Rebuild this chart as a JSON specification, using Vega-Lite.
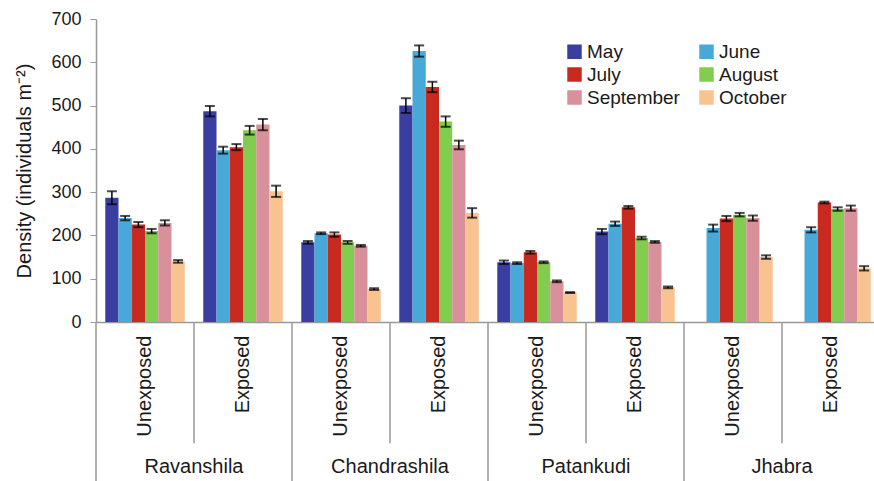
{
  "$schema": "https://vega.github.io/schema/vega-lite/v6.json",
  "autosize": "none",
  "padding": {"left": 96, "top": 19, "right": 0, "bottom": 159},
  "width": 784,
  "height": 303,
  "background": "white",
  "config": {"font": "Liberation Sans", "view": {"stroke": null}},
  "datasets": {
    "bars": [
      {"site": "Ravanshila", "exposure": "Unexposed", "group": "Ravanshila Unexposed", "month": "May", "density": 287, "se": 15},
      {"site": "Ravanshila", "exposure": "Unexposed", "group": "Ravanshila Unexposed", "month": "June", "density": 240, "se": 5},
      {"site": "Ravanshila", "exposure": "Unexposed", "group": "Ravanshila Unexposed", "month": "July", "density": 225, "se": 6},
      {"site": "Ravanshila", "exposure": "Unexposed", "group": "Ravanshila Unexposed", "month": "August", "density": 210, "se": 5},
      {"site": "Ravanshila", "exposure": "Unexposed", "group": "Ravanshila Unexposed", "month": "September", "density": 229, "se": 6},
      {"site": "Ravanshila", "exposure": "Unexposed", "group": "Ravanshila Unexposed", "month": "October", "density": 140, "se": 3},
      {"site": "Ravanshila", "exposure": "Exposed", "group": "Ravanshila Exposed", "month": "May", "density": 487, "se": 12},
      {"site": "Ravanshila", "exposure": "Exposed", "group": "Ravanshila Exposed", "month": "June", "density": 397, "se": 8},
      {"site": "Ravanshila", "exposure": "Exposed", "group": "Ravanshila Exposed", "month": "July", "density": 404, "se": 7},
      {"site": "Ravanshila", "exposure": "Exposed", "group": "Ravanshila Exposed", "month": "August", "density": 443, "se": 10},
      {"site": "Ravanshila", "exposure": "Exposed", "group": "Ravanshila Exposed", "month": "September", "density": 456, "se": 13},
      {"site": "Ravanshila", "exposure": "Exposed", "group": "Ravanshila Exposed", "month": "October", "density": 302, "se": 13},
      {"site": "Chandrashila", "exposure": "Unexposed", "group": "Chandrashila Unexposed", "month": "May", "density": 184, "se": 3},
      {"site": "Chandrashila", "exposure": "Unexposed", "group": "Chandrashila Unexposed", "month": "June", "density": 205, "se": 2},
      {"site": "Chandrashila", "exposure": "Unexposed", "group": "Chandrashila Unexposed", "month": "July", "density": 202, "se": 5},
      {"site": "Chandrashila", "exposure": "Unexposed", "group": "Chandrashila Unexposed", "month": "August", "density": 184, "se": 3},
      {"site": "Chandrashila", "exposure": "Unexposed", "group": "Chandrashila Unexposed", "month": "September", "density": 176, "se": 2},
      {"site": "Chandrashila", "exposure": "Unexposed", "group": "Chandrashila Unexposed", "month": "October", "density": 76, "se": 2},
      {"site": "Chandrashila", "exposure": "Exposed", "group": "Chandrashila Exposed", "month": "May", "density": 500, "se": 17},
      {"site": "Chandrashila", "exposure": "Exposed", "group": "Chandrashila Exposed", "month": "June", "density": 626, "se": 13},
      {"site": "Chandrashila", "exposure": "Exposed", "group": "Chandrashila Exposed", "month": "July", "density": 543, "se": 12},
      {"site": "Chandrashila", "exposure": "Exposed", "group": "Chandrashila Exposed", "month": "August", "density": 463, "se": 12},
      {"site": "Chandrashila", "exposure": "Exposed", "group": "Chandrashila Exposed", "month": "September", "density": 409, "se": 10},
      {"site": "Chandrashila", "exposure": "Exposed", "group": "Chandrashila Exposed", "month": "October", "density": 252, "se": 11},
      {"site": "Patankudi", "exposure": "Unexposed", "group": "Patankudi Unexposed", "month": "May", "density": 138, "se": 4},
      {"site": "Patankudi", "exposure": "Unexposed", "group": "Patankudi Unexposed", "month": "June", "density": 136, "se": 2},
      {"site": "Patankudi", "exposure": "Unexposed", "group": "Patankudi Unexposed", "month": "July", "density": 161, "se": 3},
      {"site": "Patankudi", "exposure": "Unexposed", "group": "Patankudi Unexposed", "month": "August", "density": 138, "se": 2},
      {"site": "Patankudi", "exposure": "Unexposed", "group": "Patankudi Unexposed", "month": "September", "density": 94, "se": 2},
      {"site": "Patankudi", "exposure": "Unexposed", "group": "Patankudi Unexposed", "month": "October", "density": 68, "se": 1},
      {"site": "Patankudi", "exposure": "Exposed", "group": "Patankudi Exposed", "month": "May", "density": 209, "se": 6},
      {"site": "Patankudi", "exposure": "Exposed", "group": "Patankudi Exposed", "month": "June", "density": 227, "se": 5},
      {"site": "Patankudi", "exposure": "Exposed", "group": "Patankudi Exposed", "month": "July", "density": 265, "se": 3},
      {"site": "Patankudi", "exposure": "Exposed", "group": "Patankudi Exposed", "month": "August", "density": 194, "se": 3},
      {"site": "Patankudi", "exposure": "Exposed", "group": "Patankudi Exposed", "month": "September", "density": 185, "se": 2},
      {"site": "Patankudi", "exposure": "Exposed", "group": "Patankudi Exposed", "month": "October", "density": 80, "se": 2},
      {"site": "Jhabra", "exposure": "Unexposed", "group": "Jhabra Unexposed", "month": "June", "density": 217, "se": 8},
      {"site": "Jhabra", "exposure": "Unexposed", "group": "Jhabra Unexposed", "month": "July", "density": 239, "se": 6},
      {"site": "Jhabra", "exposure": "Unexposed", "group": "Jhabra Unexposed", "month": "August", "density": 248, "se": 4},
      {"site": "Jhabra", "exposure": "Unexposed", "group": "Jhabra Unexposed", "month": "September", "density": 240, "se": 6},
      {"site": "Jhabra", "exposure": "Unexposed", "group": "Jhabra Unexposed", "month": "October", "density": 150, "se": 4},
      {"site": "Jhabra", "exposure": "Exposed", "group": "Jhabra Exposed", "month": "June", "density": 213, "se": 6},
      {"site": "Jhabra", "exposure": "Exposed", "group": "Jhabra Exposed", "month": "July", "density": 276, "se": 2},
      {"site": "Jhabra", "exposure": "Exposed", "group": "Jhabra Exposed", "month": "August", "density": 261, "se": 4},
      {"site": "Jhabra", "exposure": "Exposed", "group": "Jhabra Exposed", "month": "September", "density": 263, "se": 6},
      {"site": "Jhabra", "exposure": "Exposed", "group": "Jhabra Exposed", "month": "October", "density": 124, "se": 5}
    ],
    "groups": [
      {"site": "Ravanshila", "exposure": "Unexposed", "group": "Ravanshila Unexposed"},
      {"site": "Ravanshila", "exposure": "Exposed", "group": "Ravanshila Exposed"},
      {"site": "Chandrashila", "exposure": "Unexposed", "group": "Chandrashila Unexposed"},
      {"site": "Chandrashila", "exposure": "Exposed", "group": "Chandrashila Exposed"},
      {"site": "Patankudi", "exposure": "Unexposed", "group": "Patankudi Unexposed"},
      {"site": "Patankudi", "exposure": "Exposed", "group": "Patankudi Exposed"},
      {"site": "Jhabra", "exposure": "Unexposed", "group": "Jhabra Unexposed"},
      {"site": "Jhabra", "exposure": "Exposed", "group": "Jhabra Exposed"}
    ]
  },
  "encoding": {
    "x": {
      "field": "group",
      "type": "nominal",
      "scale": {
        "domain": ["Ravanshila Unexposed", "Ravanshila Exposed", "Chandrashila Unexposed", "Chandrashila Exposed", "Patankudi Unexposed", "Patankudi Exposed", "Jhabra Unexposed", "Jhabra Exposed"],
        "paddingInner": 0,
        "paddingOuter": 0
      },
      "axis": {
        "title": null,
        "labelExpr": "split(datum.value, ' ')[1]",
        "labelAngle": -90,
        "labelFontSize": 20,
        "labelColor": "#1a1a1a",
        "labelPadding": 13,
        "ticks": false,
        "domainColor": "#999999",
        "domainWidth": 1.5
      }
    }
  },
  "layer": [
    {
      "data": {"name": "bars"},
      "mark": {"type": "bar"},
      "encoding": {
        "xOffset": {
          "field": "month",
          "type": "nominal",
          "scale": {"domain": ["May", "June", "July", "August", "September", "October"], "paddingInner": 0, "paddingOuter": 0.7}
        },
        "y": {
          "field": "density",
          "type": "quantitative",
          "title": "Density (individuals m⁻²)",
          "scale": {"domain": [0, 700], "nice": false},
          "axis": {
            "title": "Density (individuals m⁻²)",
            "titleFontSize": 20,
            "titleFontWeight": "normal",
            "titleColor": "#1a1a1a",
            "titlePadding": 16,
            "values": [0, 100, 200, 300, 400, 500, 600, 700],
            "labelFontSize": 18,
            "labelColor": "#1a1a1a",
            "labelPadding": 9,
            "tickSize": 6,
            "tickColor": "#999999",
            "domainColor": "#999999",
            "domainWidth": 1.5,
            "grid": false
          }
        },
        "color": {
          "field": "month",
          "type": "nominal",
          "scale": {
            "domain": ["May", "June", "July", "August", "September", "October"],
            "range": ["#3b3ea1", "#48a9d8", "#c92a1f", "#82cc4f", "#d8919b", "#f9c291"]
          },
          "legend": {
            "title": null,
            "orient": "none",
            "direction": "horizontal",
            "legendX": 469,
            "legendY": 23,
            "columns": 2,
            "symbolType": "square",
            "symbolSize": 210,
            "symbolStrokeWidth": 0,
            "labelFontSize": 19,
            "labelColor": "#1a1a1a",
            "labelOffset": 3,
            "rowPadding": 3,
            "columnPadding": 17,
            "padding": 0
          }
        }
      }
    },
    {
      "data": {"name": "bars"},
      "mark": {"type": "errorbar", "ticks": {"size": 10, "thickness": 2, "color": "black"}, "rule": {"strokeWidth": 1.5, "color": "black"}},
      "encoding": {
        "xOffset": {"field": "month", "type": "nominal"},
        "y": {"field": "density", "type": "quantitative", "title": "Density (individuals m⁻²)"},
        "yError": {"field": "se"}
      }
    },
    {
      "data": {"name": "groups"},
      "transform": [{"filter": "datum.exposure == 'Unexposed'"}],
      "mark": {"type": "rule", "color": "#999999", "strokeWidth": 1.5},
      "encoding": {
        "x": {"field": "group", "type": "nominal", "bandPosition": 0},
        "y": {"datum": 0, "type": "quantitative"},
        "y2": {"datum": -368}
      }
    },
    {
      "data": {"name": "groups"},
      "transform": [{"filter": "datum.exposure == 'Exposed'"}],
      "mark": {"type": "rule", "color": "#999999", "strokeWidth": 1.5},
      "encoding": {
        "x": {"field": "group", "type": "nominal", "bandPosition": 0},
        "y": {"datum": 0, "type": "quantitative"},
        "y2": {"datum": -280}
      }
    },
    {
      "data": {"name": "groups"},
      "transform": [{"filter": "datum.exposure == 'Exposed'"}],
      "mark": {"type": "text", "fontSize": 20, "color": "#1a1a1a", "baseline": "middle", "align": "center"},
      "encoding": {
        "x": {"field": "group", "type": "nominal", "bandPosition": 0},
        "y": {"datum": -335, "type": "quantitative"},
        "text": {"field": "site"}
      }
    }
  ]
}
